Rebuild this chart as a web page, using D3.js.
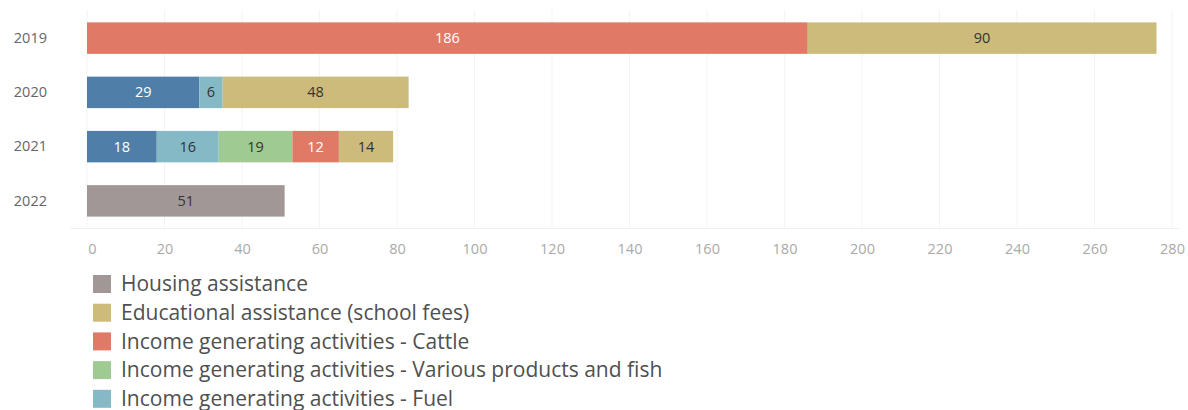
<!doctype html>
<html lang="en">
<head>
    <meta charset="utf-8">
    <title>Assistance by year</title>
    <script src="https://d3js.org/d3.v7.min.js"></script>
    <style>
        body { margin: 0; background: #fff; font-family: "Open Sans", sans-serif; }
    </style>
</head>
<body>
<script>
    // Data
    const years = ["2019", "2020", "2021", "2022"];
    const categories = [
        "Housing assistance",
        "Educational assistance (school fees)",
        "Income generating activities - Cattle",
        "Income generating activities - Various products and fish",
        "Income generating activities - Fuel",
        "Income generating activities - Other"
    ];
    const colours = ["#a29797", "#cdbb7b", "#e07a66", "#9fca92", "#86b9c6", "#4f7fa8"];
    const textColours = ["#333", "#333", "#fff", "#333", "#333", "#fff"];
    // segments per year, left to right: [category index, value]
    const segments2019 = [[2, 186], [1, 90]];
    const segments2020 = [[5, 29], [4, 6], [1, 48]];
    const segments2021 = [[5, 18], [4, 16], [3, 19], [2, 12], [1, 14]];
    const segments2022 = [[0, 51]];
    const xTicks = [0, 20, 40, 60, 80, 100, 120, 140, 160, 180, 200, 220, 240, 260, 280];
    // only the first five legend entries fit in the frame
    const legendShown = 5;

    const allSegments = [segments2019, segments2020, segments2021, segments2022];

    // flatten to rows with start / end
    const rows = [];
    allSegments.forEach((segs, i) => {
        let acc = 0;
        segs.forEach(s => {
            rows.push({ year: years[i], cat: s[0], value: s[1], x0: acc, x1: acc + s[1] });
            acc += s[1];
        });
    });

    const width = 1188, height = 410;

    const svg = d3.select("body").append("svg")
        .attr("width", width)
        .attr("height", height);

    const x = d3.scaleLinear().domain([0, 280]).range([87, 1172]);
    const y = d3.scaleBand().domain(years).range([11, 228]).paddingInner(0.42).paddingOuter(0.21);

    // grid
    svg.append("g")
        .selectAll("line")
        .data(xTicks)
        .join("line")
        .attr("x1", d => x(d)).attr("x2", d => x(d))
        .attr("y1", 10).attr("y2", 228)
        .attr("stroke", "#f3f3f3")
        .attr("stroke-width", 1);

    svg.append("line")
        .attr("x1", 70).attr("x2", 1180)
        .attr("y1", 228.5).attr("y2", 228.5)
        .attr("stroke", "#f1f1f1");

    // bars
    svg.append("g")
        .selectAll("rect")
        .data(rows)
        .join("rect")
        .attr("x", d => x(d.x0))
        .attr("width", d => x(d.x1) - x(d.x0))
        .attr("y", d => y(d.year))
        .attr("height", y.bandwidth())
        .attr("fill", d => colours[d.cat]);

    // bar labels
    svg.append("g")
        .selectAll("text")
        .data(rows)
        .join("text")
        .attr("x", d => (x(d.x0) + x(d.x1)) / 2)
        .attr("y", d => y(d.year) + y.bandwidth() / 2)
        .attr("dy", "0.35em")
        .attr("text-anchor", "middle")
        .attr("font-size", 14.5)
        .attr("fill", d => textColours[d.cat])
        .text(d => d.value);

    // y axis (year labels)
    const yAxis = svg.append("g")
        .attr("transform", "translate(47,0)")
        .call(d3.axisLeft(y).tickSize(0).tickPadding(0));
    yAxis.select(".domain").remove();
    yAxis.selectAll("text")
        .attr("font-size", 14.5)
        .attr("font-family", "Open Sans, sans-serif")
        .attr("fill", "#666");

    // x axis
    const xAxis = svg.append("g")
        .attr("transform", "translate(0,244)")
        .call(d3.axisBottom(x).tickValues(xTicks).tickSize(0).tickPadding(0));
    xAxis.select(".domain").remove();
    xAxis.selectAll("text")
        .attr("font-size", 14.5)
        .attr("font-family", "Open Sans, sans-serif")
        .attr("fill", "#aaa");
    // first label sits a little inside, as in the reference
    xAxis.selectAll(".tick").filter(d => d === 0).select("text").attr("dx", 5);

    // legend
    const legend = svg.append("g")
        .selectAll("g")
        .data(categories.slice(0, legendShown))
        .join("g")
        .attr("transform", (d, i) => "translate(93," + (275 + i * 28.7) + ")");

    legend.append("rect")
        .attr("width", 18).attr("height", 18)
        .attr("fill", (d, i) => colours[i]);

    legend.append("text")
        .attr("x", 28)
        .attr("y", 9)
        .attr("dy", "0.35em")
        .attr("font-size", 21)
        .attr("fill", "#505050")
        .text(d => d);
</script>
</body>
</html>
